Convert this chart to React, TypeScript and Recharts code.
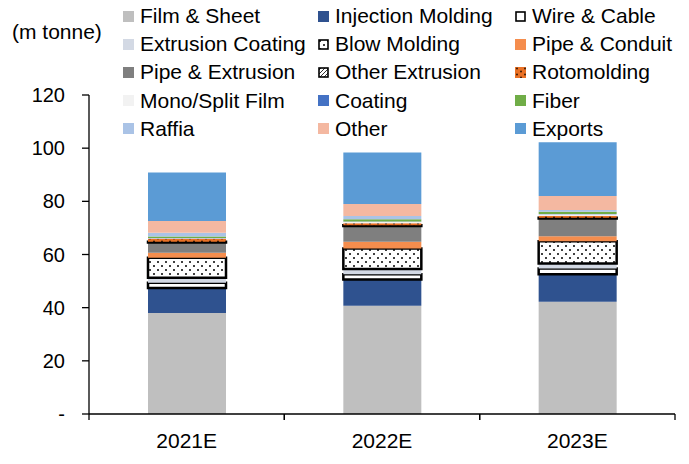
import React from "react";
import { BarChart, Bar, XAxis, YAxis } from "recharts";

const years = ["2021E", "2022E", "2023E"];

const filmSheet = [38.0, 40.7, 42.2];
const injectionMolding = [9.4, 9.9, 10.4];
const wireCable = [2.0, 2.0, 2.1];
const extrusionCoating = [1.9, 1.9, 1.9];
const blowMolding = [7.5, 7.8, 8.4];
const pipeConduit = [1.9, 2.5, 1.9];
const pipeExtrusion = [3.8, 5.9, 6.6];
const otherExtrusion = [0.3, 0.3, 0.3];
const rotomolding = [1.1, 0.8, 0.7];
const monoSplitFilm = [0.2, 0.5, 0.6];
const coating = [0.1, 0.1, 0.1];
const fiber = [0.6, 0.9, 0.9];
const raffia = [1.4, 1.2, 0.6];
const other = [4.4, 4.5, 5.3];
const exportsVol = [18.2, 19.4, 20.2];

const yTicks = [0, 20, 40, 60, 80, 100, 120];

const FONT = "'Liberation Sans', Arial, sans-serif";

type Series = {
  key: string;
  name: string;
  values: number[];
  fill: string;
  stroke?: string;
};

const series: Series[] = [
  { key: "film", name: "Film & Sheet", values: filmSheet, fill: "#bfbfbf" },
  { key: "inj", name: "Injection Molding", values: injectionMolding, fill: "#2f528f" },
  { key: "wire", name: "Wire & Cable", values: wireCable, fill: "#ffffff", stroke: "#000" },
  { key: "extc", name: "Extrusion Coating", values: extrusionCoating, fill: "#d3d9e4" },
  { key: "blow", name: "Blow Molding", values: blowMolding, fill: "url(#dots)", stroke: "#000" },
  { key: "pipec", name: "Pipe & Conduit", values: pipeConduit, fill: "#f58d4d" },
  { key: "pipee", name: "Pipe & Extrusion", values: pipeExtrusion, fill: "#7f7f7f" },
  { key: "othe", name: "Other Extrusion", values: otherExtrusion, fill: "url(#hatch)", stroke: "#000" },
  { key: "roto", name: "Rotomolding", values: rotomolding, fill: "url(#roto)" },
  { key: "mono", name: "Mono/Split Film", values: monoSplitFilm, fill: "#f2f2f2" },
  { key: "coat", name: "Coating", values: coating, fill: "#4472c4" },
  { key: "fiber", name: "Fiber", values: fiber, fill: "#70ad47" },
  { key: "raffia", name: "Raffia", values: raffia, fill: "#aac3e6" },
  { key: "other", name: "Other", values: other, fill: "#f4b8a1" },
  { key: "exp", name: "Exports", values: exportsVol, fill: "#5b9bd5" },
];

const data = years.map((year, i) => {
  const row: Record<string, any> = { year };
  series.forEach((s) => (row[s.key] = s.values[i]));
  return row;
});

const BAND = (689 - 89 - 14) / years.length;

const XTick = ({ x, y, payload }: any) => (
  <g>
    <line x1={x - BAND / 2} x2={x - BAND / 2} y1={y} y2={y + 6} stroke="#000" strokeWidth={1.3} />
    <line x1={x + BAND / 2} x2={x + BAND / 2} y1={y} y2={y + 6} stroke="#000" strokeWidth={1.3} />
    <text x={x} y={y + 34} textAnchor="middle" fontSize={21} fontFamily={FONT} fill="#000">
      {payload.value}
    </text>
  </g>
);

const Legend15 = () => (
  <div style={{ position: "absolute", left: 0, top: 0, fontFamily: FONT, fontSize: 21, color: "#000" }}>
    {series.map((s, i) => {
      const col = i % 3;
      const row = Math.floor(i / 3);
      const left = [123, 318, 515][col];
      const top = 16 + row * 28.2;
      return (
        <div
          key={s.key}
          style={{ position: "absolute", left, top: top - 12, height: 24, display: "flex", alignItems: "center", whiteSpace: "nowrap" }}
        >
          <svg width={11} height={11} style={{ marginRight: 6 }}>
            <rect
              x={s.stroke ? 1 : 0}
              y={s.stroke ? 1 : 0}
              width={s.stroke ? 9 : 11}
              height={s.stroke ? 9 : 11}
              fill={s.fill}
              stroke={s.stroke || "none"}
              strokeWidth={1.6}
            />
          </svg>
          <span>{s.name}</span>
        </div>
      );
    })}
  </div>
);

export default function App() {
  return (
    <div style={{ position: "absolute", left: 0, top: 0, width: 689, height: 464, background: "#fff" }}>
      <svg width={0} height={0} style={{ position: "absolute" }}>
        <defs>
          <pattern id="dots" patternUnits="userSpaceOnUse" width={8} height={8}>
            <rect width={8} height={8} fill="#fff" />
            <circle cx={2} cy={2} r={1} fill="#000" />
            <circle cx={6} cy={6} r={1} fill="#000" />
          </pattern>
          <pattern id="roto" patternUnits="userSpaceOnUse" width={8} height={6}>
            <rect width={8} height={6} fill="#ea7125" />
            <circle cx={2} cy={1.5} r={1} fill="#3a1a05" />
            <circle cx={6} cy={4.5} r={1} fill="#3a1a05" />
          </pattern>
          <pattern id="hatch" patternUnits="userSpaceOnUse" width={4} height={4}>
            <rect width={4} height={4} fill="#fff" />
            <path d="M-1,1 l2,-2 M0,4 l4,-4 M3,5 l2,-2" stroke="#000" strokeWidth={0.8} />
          </pattern>
        </defs>
      </svg>
      <BarChart
        width={689}
        height={464}
        data={data}
        margin={{ top: 95, right: 14, bottom: 0, left: 0 }}
      >
        <XAxis
          dataKey="year"
          height={50}
          axisLine={{ stroke: "#000", strokeWidth: 1.3 }}
          tickLine={false}
          tickSize={0}
          tickMargin={0}
          tick={<XTick />}
          interval={0}
        />
        <YAxis
          width={89}
          domain={[0, 120]}
          ticks={yTicks}
          interval={0}
          axisLine={{ stroke: "#000", strokeWidth: 1.3 }}
          tickLine={{ stroke: "#000", strokeWidth: 1.3 }}
          tickSize={7}
          tickMargin={17}
          tickFormatter={(v: number) => (v === 0 ? "-" : String(v))}
          tick={{ fill: "#000", fontSize: 20, fontFamily: FONT }}
        />
        {series.map((s) => (
          <Bar
            key={s.key}
            dataKey={s.key}
            name={s.name}
            stackId="a"
            fill={s.fill}
            stroke={s.stroke || "none"}
            strokeWidth={s.stroke ? 2.5 : 0}
            barSize={78}
            isAnimationActive={false}
          />
        ))}
      </BarChart>
      <div style={{ position: "absolute", left: 12, top: 20, fontFamily: FONT, fontSize: 21, color: "#000" }}>
        (m tonne)
      </div>
      <Legend15 />
    </div>
  );
}
